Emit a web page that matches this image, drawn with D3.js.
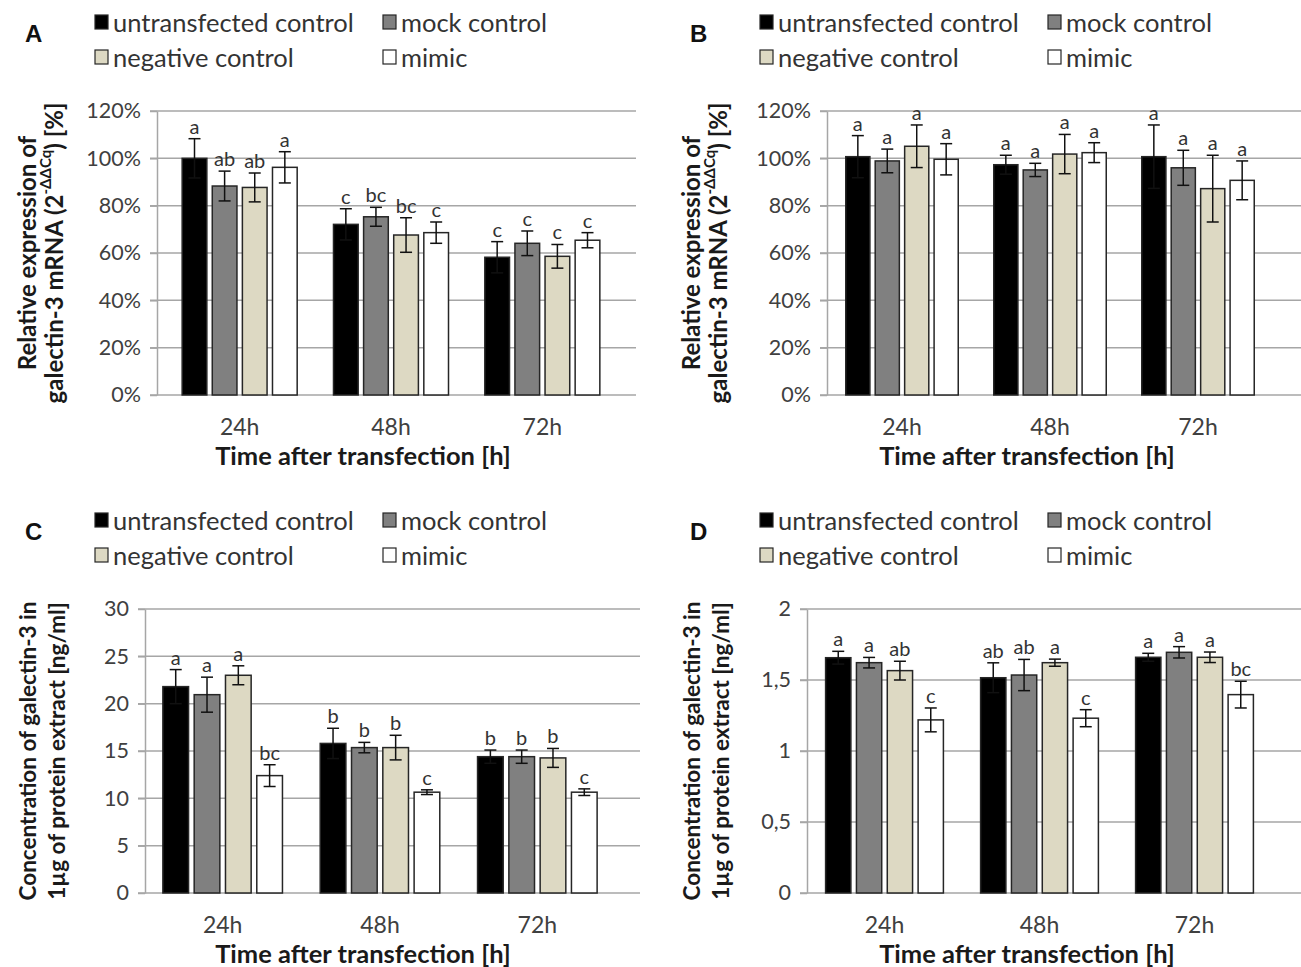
<!DOCTYPE html>
<html>
<head>
<meta charset="utf-8">
<script src="https://cdn.jsdelivr.net/npm/d3@7"></script>
<style>
  body { margin: 0; background: #fff; }
  svg { display: block; }
</style>
</head>
<body>
<div id="viz"></div>
<script>
// categories and series
let times = ['24h', '48h', '72h'];
let groupsNames = ['untransfected control', 'mock control', 'negative control', 'mimic'];
let fills = ['#000000', '#808080', '#ddd9c3', '#ffffff'];

// A: mRNA, miR transfection (%)
let mrnaA = [[100, 88.3, 87.7, 96.2], [72.1, 75.3, 67.6, 68.6], [58.2, 64.1, 58.6, 65.4]];
let mrnaAErr = [[8.3, 6.3, 6.1, 6.6], [6.6, 4.0, 7.3, 4.5], [6.6, 5.2, 5.0, 3.2]];
let mrnaALetters = [['a', 'ab', 'ab', 'a'], ['c', 'bc', 'bc', 'c'], ['c', 'c', 'c', 'c']];

// B: mRNA (%)
let mrnaB = [[100.7, 98.9, 105.1, 99.6], [97.3, 95.1, 101.8, 102.4], [100.7, 96.0, 87.2, 90.7]];
let mrnaBErr = [[8.9, 5.0, 9.0, 6.6], [4.0, 2.8, 8.3, 4.2], [13.4, 7.4, 14.1, 8.2]];
let mrnaBLetters = [['a', 'a', 'a', 'a'], ['a', 'a', 'a', 'a'], ['a', 'a', 'a', 'a']];

// C: protein (ng/ml)
let protC = [[21.8, 20.95, 23.0, 12.4], [15.8, 15.36, 15.36, 10.65], [14.4, 14.4, 14.27, 10.65]];
let protCErr = [[1.8, 1.85, 1.0, 1.15], [1.6, 0.55, 1.3, 0.25], [0.7, 0.7, 1.0, 0.35]];
let protCLetters = [['a', 'a', 'a', 'bc'], ['b', 'b', 'b', 'c'], ['b', 'b', 'b', 'c']];

// D: protein (ng/ml)
let protD = [[1.657, 1.622, 1.566, 1.219], [1.516, 1.535, 1.622, 1.231], [1.66, 1.695, 1.66, 1.397]];
let protDErr = [[0.045, 0.037, 0.066, 0.084], [0.105, 0.11, 0.025, 0.06], [0.028, 0.04, 0.037, 0.094]];
let protDLetters = [['a', 'a', 'ab', 'c'], ['ab', 'ab', 'a', 'c'], ['a', 'a', 'a', 'bc']];

// tick labels
let pctTicks = [0, 20, 40, 60, 80, 100, 120];
let protCTicks = [0, 5, 10, 15, 20, 25, 30];
let protDTicks = [0, 0.5, 1, 1.5, 2];

let svg = d3.select('#viz').append('svg')
  .attr('width', 1301)
  .attr('height', 967);

let font = 'Lato, "Open Sans", sans-serif';
let gridColor = '#a6a6a6';

let panels = [
  {letter: 'A', ox: 0, oy: 0, values: mrnaA, errs: mrnaAErr, letters: mrnaALetters,
   ticks: pctTicks, max: 120, fmt: d => d + '%',
   axisX: 157, gridRight: 636, band: [164, 618], top: 111, bottom: 395,
   title: ['Relative expression of', 'mrna'], titleX: [26, 53], titleSize: 24, xTitle: 363},
  {letter: 'B', ox: 665, oy: 0, values: mrnaB, errs: mrnaBErr, letters: mrnaBLetters,
   ticks: pctTicks, max: 120, fmt: d => d + '%',
   axisX: 827, gridRight: 1301, band: [828, 1272], top: 111, bottom: 395,
   title: ['Relative expression of', 'mrna'], titleX: [690, 717], titleSize: 24, xTitle: 1027},
  {letter: 'C', ox: 0, oy: 498, values: protC, errs: protCErr, letters: protCLetters,
   ticks: protCTicks, max: 30, fmt: d => d,
   axisX: 145, gridRight: 640, band: [144, 616], top: 609, bottom: 893,
   title: ['Concentration of galectin-3 in', '1µg of protein extract [ng/ml]'], titleX: [27, 56], titleSize: 22.5, xTitle: 363},
  {letter: 'D', ox: 665, oy: 498, values: protD, errs: protDErr, letters: protDLetters,
   ticks: protDTicks, max: 2, fmt: d => String(d).replace('.', ','),
   axisX: 807, gridRight: 1301, band: [807, 1272], top: 609, bottom: 893,
   title: ['Concentration of galectin-3 in', '1µg of protein extract [ng/ml]'], titleX: [691, 720], titleSize: 22.5, xTitle: 1027}
];

panels.forEach(p => drawPanel(p));

function drawPanel(p) {
  let g = svg.append('g');

  let y = d3.scaleLinear().domain([0, p.max]).range([p.bottom, p.top]);
  let x0 = d3.scaleBand().domain(times).range(p.band).paddingInner(0.24).paddingOuter(0.12);
  let x1 = d3.scaleBand().domain(groupsNames).range([0, x0.bandwidth()]).paddingInner(0.18);

  // gridlines
  g.append('g').selectAll('line')
    .data(p.ticks)
    .join('line')
    .attr('x1', p.axisX - 7)
    .attr('x2', p.gridRight)
    .attr('y1', d => y(d))
    .attr('y2', d => y(d))
    .attr('stroke', gridColor)
    .attr('stroke-width', 1.5);

  // y axis
  let yAxis = g.append('g')
    .attr('transform', `translate(${p.axisX},0)`)
    .call(d3.axisLeft(y).tickValues(p.ticks).tickFormat(p.fmt).tickSize(7).tickSizeOuter(0).tickPadding(9));
  yAxis.select('.domain').attr('stroke', gridColor).attr('stroke-width', 1.5);
  yAxis.selectAll('.tick line').attr('stroke', gridColor).attr('stroke-width', 1.5);
  yAxis.selectAll('text')
    .style('font-family', font)
    .style('font-size', '21.5px')
    .attr('fill', '#404040');

  // x axis labels
  let xAxis = g.append('g')
    .attr('transform', `translate(0,${p.bottom})`)
    .call(d3.axisBottom(x0).tickSize(0).tickPadding(24));
  xAxis.select('.domain').remove();
  xAxis.selectAll('text')
    .style('font-family', font)
    .style('font-size', '23px')
    .attr('fill', '#404040');

  // x title
  g.append('text')
    .attr('x', p.xTitle)
    .attr('y', p.bottom + 70)
    .attr('text-anchor', 'middle')
    .style('font-family', font)
    .style('font-weight', 'bold')
    .style('font-size', '25.5px')
    .attr('fill', '#1a1a1a')
    .text('Time after transfection [h]');

  // y title
  let cy = (p.top + p.bottom) / 2;
  p.title.forEach((t, i) => {
    let txt = g.append('text')
      .attr('transform', `translate(${p.titleX[i]},${cy}) rotate(-90)`)
      .attr('text-anchor', 'middle')
      .attr('dominant-baseline', 'central')
      .style('font-family', font)
      .style('font-weight', 'bold')
      .style('font-size', p.titleSize + 'px')
      .attr('fill', '#1a1a1a');
    if (t === 'mrna') {
      txt.append('tspan').text('galectin-3 mRNA (2');
      txt.append('tspan').attr('dy', -8).style('font-size', '15px').text('-ΔΔCq');
      txt.append('tspan').attr('dy', 8).text(') [%]');
    } else {
      txt.text(t);
    }
  });

  // bars
  let rows = [];
  times.forEach((t, i) => groupsNames.forEach((s, j) => {
    rows.push({time: t, group: s, idx: j, v: p.values[i][j], e: p.errs[i][j], lab: p.letters[i][j]});
  }));

  let bar = g.append('g').selectAll('.bar-group')
    .data(rows)
    .join('g')
    .attr('class', 'bar-group')
    .attr('transform', d => `translate(${x0(d.time) + x1(d.group)},0)`);

  bar.append('rect')
    .attr('x', 0)
    .attr('y', d => y(d.v))
    .attr('width', x1.bandwidth())
    .attr('height', d => p.bottom - y(d.v))
    .attr('fill', d => fills[d.idx])
    .attr('stroke', '#262626')
    .attr('stroke-width', 1.5);

  let cx = x1.bandwidth() / 2;
  bar.append('line')
    .attr('x1', cx).attr('x2', cx)
    .attr('y1', d => y(d.v - d.e))
    .attr('y2', d => y(d.v + d.e))
    .attr('stroke', '#111').attr('stroke-width', 1.5);
  [d => d.v - d.e, d => d.v + d.e].forEach(f => {
    bar.append('line')
      .attr('x1', cx - 6).attr('x2', cx + 6)
      .attr('y1', d => y(f(d)))
      .attr('y2', d => y(f(d)))
      .attr('stroke', '#111').attr('stroke-width', 1.5);
  });

  bar.append('text')
    .attr('x', cx)
    .attr('y', d => y(d.v + d.e) - 5)
    .attr('text-anchor', 'middle')
    .style('font-family', font)
    .style('font-size', '20px')
    .attr('fill', '#333')
    .text(d => d.lab);

  // panel letter
  g.append('text')
    .attr('x', 25 + p.ox)
    .attr('y', 42 + p.oy)
    .style('font-family', '"Liberation Sans", Arial, sans-serif')
    .style('font-weight', 'bold')
    .style('font-size', '24px')
    .attr('fill', '#111')
    .text(p.letter);

  // legend
  let legPos = [[95, 22], [383, 22], [95, 57], [383, 57]];
  let leg = g.append('g').selectAll('g')
    .data(groupsNames)
    .join('g')
    .attr('transform', (d, i) => `translate(${legPos[i][0] + p.ox},${legPos[i][1] + p.oy})`);
  leg.append('rect')
    .attr('x', 0).attr('y', -7)
    .attr('width', 13).attr('height', 14)
    .attr('fill', (d, i) => fills[i])
    .attr('stroke', '#262626')
    .attr('stroke-width', 1.2);
  leg.append('text')
    .attr('x', 18)
    .attr('dominant-baseline', 'central')
    .style('font-family', font)
    .style('font-size', '25.5px')
    .attr('fill', '#333')
    .text(d => d);
}
</script>
</body>
</html>
